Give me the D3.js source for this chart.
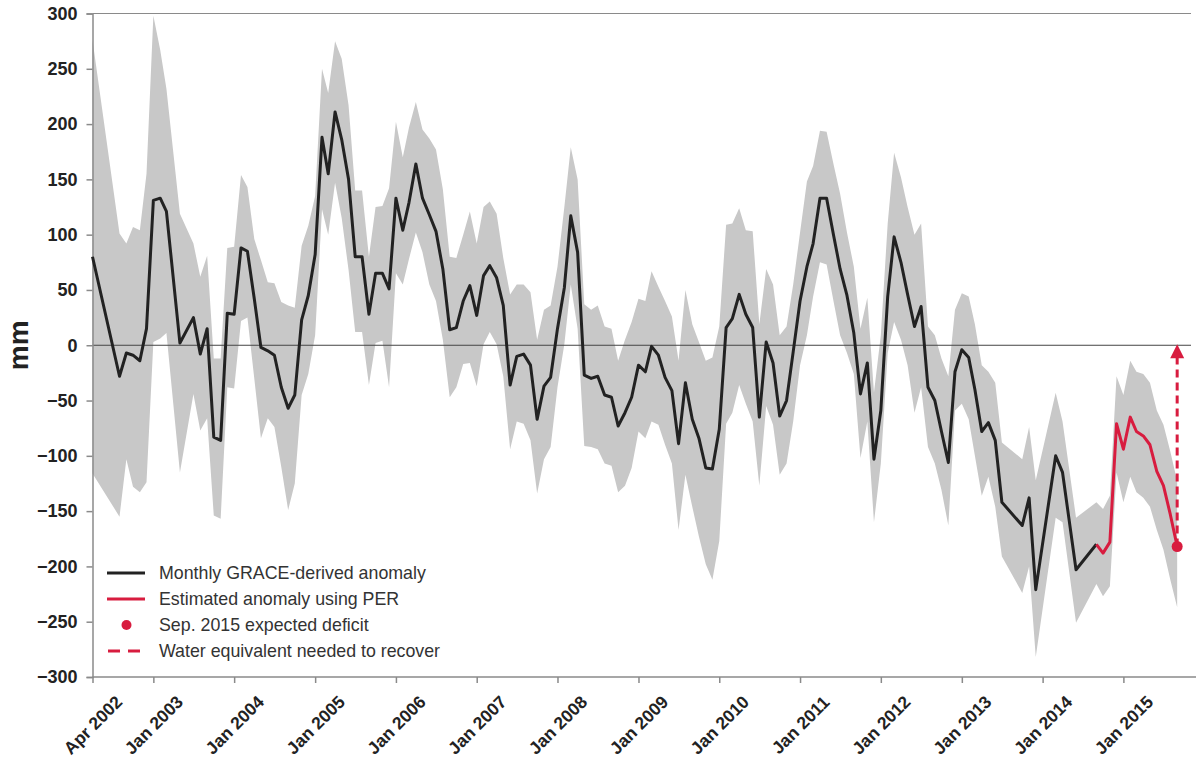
<!DOCTYPE html>
<html>
<head>
<meta charset="utf-8">
<script src="https://cdn.jsdelivr.net/npm/d3@7"></script>
<style>
  html, body { margin: 0; padding: 0; background: #fff; }
  svg { display: block; font-family: "Liberation Sans", Arial, sans-serif; }
</style>
</head>
<body>
<svg id="chart" width="1196" height="759"></svg>
<script>
/* ──── data ──── */
const graceMonths = [
  '2002-04','2002-08','2002-09','2002-10','2002-11','2002-12',
  '2003-01','2003-02','2003-03','2003-05','2003-07','2003-08','2003-09','2003-10','2003-11','2003-12',
  '2004-01','2004-02','2004-03','2004-04','2004-05','2004-06','2004-07','2004-08','2004-09','2004-10','2004-11','2004-12',
  '2005-01','2005-02','2005-03','2005-04','2005-05','2005-06','2005-07','2005-08','2005-09','2005-10','2005-11','2005-12',
  '2006-01','2006-02','2006-03','2006-04','2006-05','2006-06','2006-07','2006-08','2006-09','2006-10','2006-11','2006-12',
  '2007-01','2007-02','2007-03','2007-04','2007-05','2007-06','2007-07','2007-08','2007-09','2007-10','2007-11','2007-12',
  '2008-01','2008-02','2008-03','2008-04','2008-05','2008-06','2008-07','2008-08','2008-09','2008-10','2008-11','2008-12',
  '2009-01','2009-02','2009-03','2009-04','2009-05','2009-06','2009-07','2009-08','2009-09','2009-10','2009-11','2009-12',
  '2010-01','2010-02','2010-03','2010-04','2010-05','2010-06','2010-07','2010-08','2010-09','2010-10','2010-11','2010-12',
  '2011-01','2011-02','2011-03','2011-04','2011-05','2011-06','2011-07','2011-08','2011-09','2011-10','2011-11','2011-12',
  '2012-01','2012-02','2012-03','2012-04','2012-05','2012-06','2012-07','2012-08','2012-09','2012-10','2012-11','2012-12',
  '2013-01','2013-02','2013-03','2013-04','2013-05','2013-06','2013-07','2013-10','2013-11','2013-12',
  '2014-03','2014-04','2014-06','2014-09'
];
const graceAnomaly = [
  80,-28,-7,-9,-14,15,
  131,133,121,2,25,-8,15,-83,-86,29,
  28,88,85,42,-2,-5,-9,-38,-57,-45,23,45,
  82,188,155,211,186,150,80,80,28,65,65,51,
  133,104,129,164,133,118,103,69,14,16,40,54,
  27,63,72,61,36,-36,-10,-8,-18,-67,-37,-29,
  15,52,117,84,-27,-30,-28,-45,-47,-73,-61,-47,
  -18,-24,-1,-9,-29,-41,-89,-34,-67,-84,-111,-112,
  -76,16,24,46,28,16,-65,3,-16,-64,-50,-6,
  40,71,92,133,133,100,69,45,11,-44,-16,-103,
  -59,44,98,75,46,17,35,-38,-50,-78,-106,-24,
  -4,-11,-40,-78,-70,-86,-142,-163,-138,-221,
  -100,-115,-203,-180
];
const graceLow = [
  -116,-155,-103,-128,-133,-124,
  3,6,11,-115,-44,-77,-66,-154,-157,-38,
  -39,22,25,-30,-84,-66,-74,-110,-149,-125,-45,-26,
  9,123,100,147,115,68,12,12,-36,2,4,-38,
  65,55,78,102,84,55,40,5,-47,-38,-17,-16,
  -37,1,12,1,-28,-94,-69,-71,-86,-134,-103,-92,
  -38,1,55,15,-91,-92,-94,-107,-109,-133,-127,-111,
  -78,-84,-69,-72,-90,-107,-167,-117,-146,-173,-198,-212,
  -177,-71,-61,-36,-53,-69,-127,-55,-72,-117,-107,-69,
  -18,9,44,75,73,40,9,-7,-26,-102,-69,-160,
  -107,-7,21,5,-18,-61,-38,-92,-107,-131,-163,-59,
  -53,-67,-100,-136,-119,-146,-191,-224,-200,-282,
  -156,-160,-251,-216
];
const graceHigh = [
  276,101,92,107,104,155,
  298,267,232,119,92,62,81,-12,-12,88,
  89,154,143,96,77,57,56,39,36,34,90,108,
  135,250,228,275,259,217,140,140,80,125,126,142,
  202,170,197,220,195,187,177,141,80,79,100,121,
  92,125,130,119,79,46,55,55,48,5,32,36,
  71,125,179,150,37,32,36,17,15,-14,5,21,
  42,40,67,53,40,26,-14,50,19,3,-14,-11,
  17,109,110,124,104,103,19,69,55,9,17,55,
  102,148,162,194,193,164,137,102,71,15,43,-43,
  9,110,174,152,125,100,110,17,9,-12,-28,32,
  47,44,19,-18,-24,-34,-88,-103,-74,-122,
  -43,-69,-156,-142
];

// PER-based estimate, Sep 2014 onward
const perMonths  = ['2014-09','2014-10','2014-11','2014-12','2015-01','2015-02','2015-03',
                    '2015-04','2015-05','2015-06','2015-07','2015-08','2015-09'];
const perAnomaly = [-180,-188,-178,-71,-94,-65,-78,-82,-90,-114,-127,-153,-182];
const perLow     = [-216,-227,-218,-115,-142,-119,-133,-138,-146,-167,-185,-212,-237];
const perHigh    = [-142,-148,-136,-28,-45,-14,-24,-26,-34,-59,-72,-96,-123];

const yTicks      = [-300,-250,-200,-150,-100,-50,0,50,100,150,200,250,300];
const xTickMonths = ['2002-04','2003-01','2004-01','2005-01','2006-01','2007-01','2008-01',
                     '2009-01','2010-01','2011-01','2012-01','2013-01','2014-01','2015-01'];

const legendItems = [
  'Monthly GRACE-derived anomaly',
  'Estimated anomaly using PER',
  'Sep. 2015 expected deficit',
  'Water equivalent needed to recover'
];

/* ──── build records ──── */
const parse = d3.timeParse('%Y-%m');
const grace = graceMonths.map((m, i) => ({ date: parse(m), v: graceAnomaly[i], lo: graceLow[i], hi: graceHigh[i] }));
const per   = perMonths.map((m, i)   => ({ date: parse(m), v: perAnomaly[i],   lo: perLow[i],   hi: perHigh[i] }));
const band  = grace.concat(per.slice(1));

/* ──── scales ──── */
const svg = d3.select('#chart');
const plot = { left: 92.5, right: 1191, top: 13.5, bottom: 677 };

const x = d3.scaleTime()
  .domain([parse('2002-04'), new Date(2015, 10, 7)])
  .range([plot.left, 1192]);

const y = d3.scaleLinear()
  .domain([-300, 300])
  .range([plot.bottom, plot.top]);

const ink   = '#222';
const red   = '#d81c3f';
const grey  = '#c8c8c8';
const axisC = '#8a8a8a';

/* ──── uncertainty band ──── */
svg.append('path')
  .datum(band)
  .attr('fill', grey)
  .attr('d', d3.area()
    .x(d => x(d.date))
    .y0(d => y(d.lo))
    .y1(d => y(d.hi)));

/* ──── frame lines ──── */
svg.append('line')
  .attr('x1', plot.left).attr('x2', plot.right)
  .attr('y1', y(300)).attr('y2', y(300))
  .attr('stroke', axisC).attr('stroke-width', 1);

svg.append('line')
  .attr('x1', plot.left).attr('x2', plot.right)
  .attr('y1', y(0)).attr('y2', y(0))
  .attr('stroke', '#444').attr('stroke-width', 1);

/* ──── axes ──── */
const yAxis = svg.append('g')
  .attr('transform', `translate(${plot.left},0)`)
  .call(d3.axisLeft(y).tickValues(yTicks).tickSize(6).tickPadding(9));
yAxis.select('.domain').attr('stroke', axisC).attr('stroke-width', 1.5);
yAxis.selectAll('.tick line').attr('stroke', axisC).attr('stroke-width', 1.5);
yAxis.selectAll('.tick text')
  .attr('fill', ink)
  .style('font-size', '18px')
  .style('font-weight', 'bold');

const xAxis = svg.append('g')
  .attr('transform', `translate(0,${plot.bottom})`)
  .call(d3.axisBottom(x)
    .tickValues(xTickMonths.map(parse))
    .tickFormat(d3.timeFormat('%b %Y'))
    .tickSize(6)
    .tickSizeOuter(0));
xAxis.select('.domain')
  .attr('d', `M${plot.left},0H1196`)
  .attr('stroke', axisC).attr('stroke-width', 1.5);
xAxis.selectAll('.tick line').attr('stroke', axisC).attr('stroke-width', 1.5);
xAxis.selectAll('.tick text')
  .attr('fill', ink)
  .attr('y', 0).attr('dy', 0)
  .attr('text-anchor', 'middle')
  .attr('dominant-baseline', 'central')
  .attr('transform', 'translate(0,48) rotate(-45)')
  .style('font-size', '17.5px')
  .style('font-weight', 'bold');

/* ──── y label ──── */
svg.append('text')
  .attr('transform', `translate(28,${y(0)}) rotate(-90)`)
  .attr('text-anchor', 'middle')
  .attr('fill', ink)
  .style('font-size', '28px')
  .style('font-weight', 'bold')
  .text('mm');

/* ──── series lines ──── */
const line = d3.line().x(d => x(d.date)).y(d => y(d.v));

svg.append('path')
  .datum(grace)
  .attr('fill', 'none')
  .attr('stroke', ink)
  .attr('stroke-width', 3)
  .attr('stroke-linejoin', 'round')
  .attr('d', line);

svg.append('path')
  .datum(per)
  .attr('fill', 'none')
  .attr('stroke', red)
  .attr('stroke-width', 3)
  .attr('stroke-linejoin', 'round')
  .attr('d', line);

/* ──── recovery arrow + deficit dot ──── */
const last = per[per.length - 1];
const ax = x(last.date);

svg.append('line')
  .attr('x1', ax).attr('x2', ax)
  .attr('y1', y(last.v)).attr('y2', y(0) + 12)
  .attr('stroke', red)
  .attr('stroke-width', 3)
  .attr('stroke-dasharray', '8,5');

svg.append('path')
  .attr('d', `M${ax},${y(0) - 1}L${ax - 7},${y(0) + 13}L${ax + 7},${y(0) + 13}Z`)
  .attr('fill', red);

svg.append('circle')
  .attr('cx', ax).attr('cy', y(last.v))
  .attr('r', 5.5)
  .attr('fill', red);

/* ──── legend ──── */
const legend = svg.append('g').attr('transform', 'translate(107,573)');
const rowH = 26;

const rows = legend.selectAll('g')
  .data(legendItems)
  .join('g')
  .attr('transform', (d, i) => `translate(0,${i * rowH})`);

rows.append('text')
  .attr('x', 52)
  .attr('dy', '0.35em')
  .attr('fill', '#333')
  .style('font-size', '17.8px')
  .text(d => d);

rows.filter((d, i) => i === 0).append('line')
  .attr('x1', 0).attr('x2', 38).attr('stroke', ink).attr('stroke-width', 3);
rows.filter((d, i) => i === 1).append('line')
  .attr('x1', 0).attr('x2', 38).attr('stroke', red).attr('stroke-width', 3);
rows.filter((d, i) => i === 2).append('circle')
  .attr('cx', 19.5).attr('r', 5).attr('fill', red);
rows.filter((d, i) => i === 3).append('line')
  .attr('x1', 1).attr('x2', 33).attr('stroke', red).attr('stroke-width', 3)
  .attr('stroke-dasharray', '12,8');
</script>
</body>
</html>
